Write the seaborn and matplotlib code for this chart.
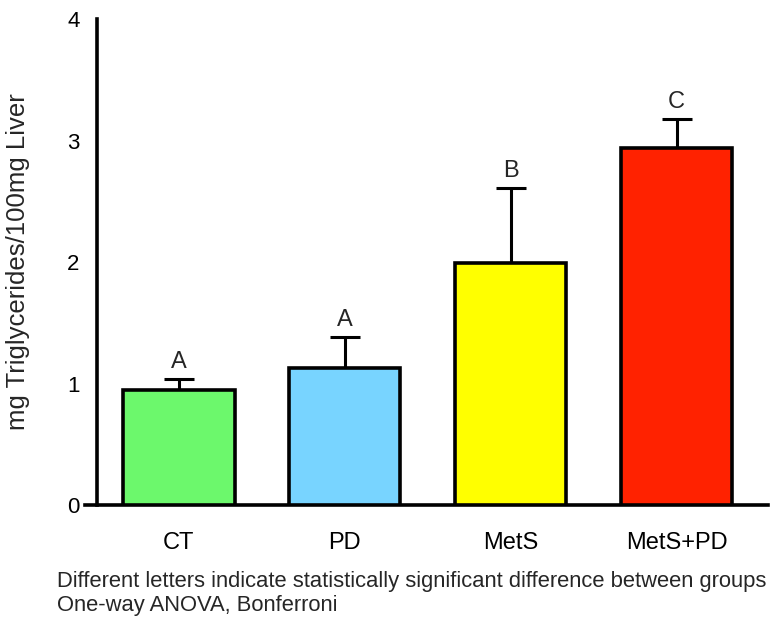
import matplotlib
matplotlib.use("Agg")
import matplotlib.pyplot as plt
import seaborn as sns
import pandas as pd
import numpy as np

groups = ["CT", "PD", "MetS", "MetS+PD"]
means = [0.95, 1.13, 1.99, 2.94]
sem = [0.09, 0.25, 0.62, 0.24]
letters = ["A", "A", "B", "C"]
colors = ["#6CF86C", "#78D4FF", "#FFFF00", "#FF2200"]

sns.set_style("white")
plt.rcParams["font.family"] = ["Liberation Sans", "DejaVu Sans"]

fig = plt.figure(figsize=(7.76, 6.19), dpi=100)
ax = fig.add_axes([85/776, 1-505/619, (768-85)/776, (505-19)/619])

df = pd.DataFrame({"group": groups, "value": means})
sns.barplot(data=df, x="group", y="value", hue="group", palette=colors,
            order=groups, width=0.67, edgecolor="black", linewidth=2.6,
            saturation=1, legend=False, ax=ax, errorbar=None, zorder=3)

x = np.arange(len(groups))
ax.errorbar(x, means, yerr=[np.zeros(len(sem)), sem], fmt="none",
            ecolor="black", elinewidth=2.2, capsize=11, capthick=2.2, zorder=2)

for xi, m, s, l in zip(x, means, sem, letters):
    ax.text(xi, m + s + 0.05, l, ha="center", va="bottom", fontsize=17)

ax.set_ylim(0, 4)
ax.set_xlim(-0.566, 3.55)
ax.set_yticks([0, 1, 2, 3, 4])
ax.spines["left"].set_position(("data", -0.494))
for s in ["top", "right"]:
    ax.spines[s].set_visible(False)
for s in ["left", "bottom"]:
    ax.spines[s].set_linewidth(2.6)
    ax.spines[s].set_color("black")
ax.tick_params(axis="both", direction="out", length=8.5, width=2.6,
               color="black", labelcolor="black")
ax.tick_params(axis="x", pad=11, labelsize=17)
ax.tick_params(axis="y", pad=4, labelsize=16)
ax.set_xlabel("")
ax.set_ylabel("mg Triglycerides/100mg Liver", fontsize=18.5, va="center")
ax.yaxis.set_label_coords(-0.098, 0.5)

fig.text(57/776, 1-582/619, "Different letters indicate statistically significant difference between groups",
         fontsize=15.8, va="center", ha="left")
fig.text(57/776, 1-605/619, "One-way ANOVA, Bonferroni",
         fontsize=15.8, va="center", ha="left")

fig.savefig("out.png", dpi=100)
